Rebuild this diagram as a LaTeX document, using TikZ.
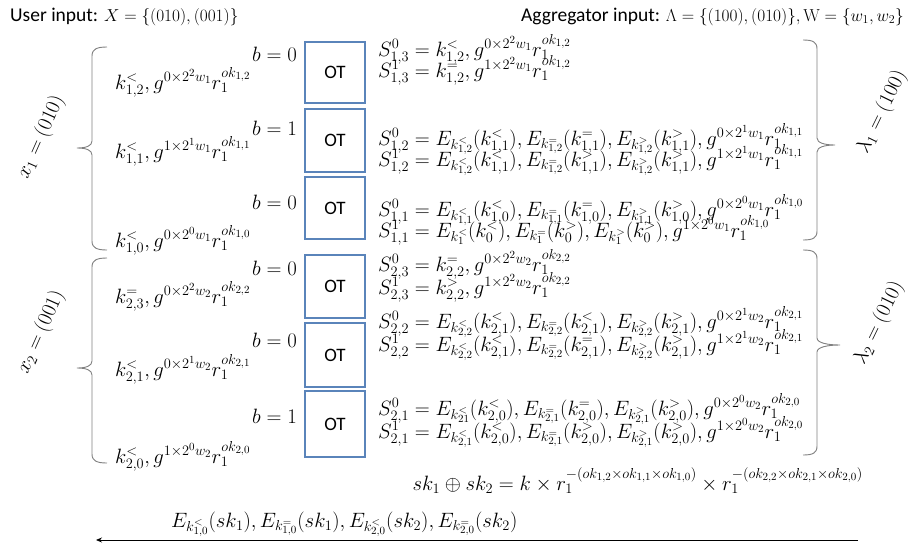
\documentclass[tikz,border=0pt]{standalone}
\usepackage[no-math]{fontspec}
\setmainfont{Carlito}
\usetikzlibrary{arrows.meta}
\definecolor{otblue}{RGB}{90,132,186}
\definecolor{brgray}{RGB}{128,128,128}
\begin{document}
\begin{tikzpicture}[x=1pt,y=-1pt,
  txt/.style={inner sep=0pt, font=\fontsize{19.5}{22}\selectfont},
  mth/.style={inner sep=0pt, font=\fontsize{21}{24}\selectfont},
  otbox/.style={draw=otblue, line width=1.3pt, minimum width=60pt, inner sep=0pt, font=\fontsize{19}{22}\selectfont},
  brc/.style={draw=brgray, line width=0.9pt}]
\useasboundingbox[fill=white] (0,0) rectangle (924,546);

% headers
\node[txt, anchor=base west] (uin) at (10,21) {User input: {\fontsize{18}{21}\selectfont$X=\{(010),(001)\}$}};
\node[txt, anchor=base east] (ain) at (904,21) {Aggregator input: {\fontsize{18.5}{21}\selectfont$\Lambda=\{(100),(010)\},\mathrm{W}=\{w_1,w_2\}$}};

% OT boxes
\node[otbox, minimum height=61pt] (ot1) at (335,72.5) {OT};
\node[otbox, minimum height=63pt] (ot2) at (335,140.5) {OT};
\node[otbox, minimum height=62pt] (ot3) at (335,208) {OT};
\node[otbox, minimum height=63pt] (ot4) at (335,286.5) {OT};
\node[otbox, minimum height=64pt] (ot5) at (335,355) {OT};
\node[otbox, minimum height=66pt] (ot6) at (335,424) {OT};

% b labels
\node[mth, anchor=base east] (b1) at (297,61) {$b=0$};
\node[mth, anchor=base east] (b2) at (297,135) {$b=1$};
\node[mth, anchor=base east] (b3) at (297,209) {$b=0$};
\node[mth, anchor=base east] (b4) at (297,275) {$b=0$};
\node[mth, anchor=base east] (b5) at (297,347) {$b=0$};
\node[mth, anchor=base east] (b6) at (297,423) {$b=1$};

% user values
\node[mth, anchor=base west] (k1) at (115,89) {$k^{<}_{1,2},g^{0\times2^2w_1}r_1^{ok_{1,2}}$};
\node[mth, anchor=base west] (k2) at (115,158) {$k^{<}_{1,1},g^{1\times2^1w_1}r_1^{ok_{1,1}}$};
\node[mth, anchor=base west] (k3) at (115,247) {$k^{<}_{1,0},g^{0\times2^0w_1}r_1^{ok_{1,0}}$};
\node[mth, anchor=base west] (k4) at (115,303) {$k^{=}_{2,3},g^{0\times2^2w_2}r_1^{ok_{2,2}}$};
\node[mth, anchor=base west] (k5) at (115,376) {$k^{<}_{2,1},g^{0\times2^1w_2}r_1^{ok_{2,1}}$};
\node[mth, anchor=base west] (k6) at (115,463) {$k^{<}_{2,0},g^{1\times2^0w_2}r_1^{ok_{2,0}}$};

% aggregator values
\node[mth, anchor=base west] (s1a) at (378,56) {$S^0_{1,3}=k^{<}_{1,2},g^{0\times2^2w_1}r_1^{ok_{1,2}}$};
\node[mth, anchor=base west] (s1b) at (378,77) {$S^1_{1,3}=k^{=}_{1,2},g^{1\times2^2w_1}r_1^{ok_{1,2}}$};
\node[mth, anchor=base west] (s2a) at (378,145) {$S^0_{1,2}=E_{k^{<}_{1,2}}\bigl(k^{<}_{1,1}\bigr),E_{k^{=}_{1,2}}\bigl(k^{=}_{1,1}\bigr),E_{k^{>}_{1,2}}\bigl(k^{>}_{1,1}\bigr),g^{0\times2^1w_1}r_1^{ok_{1,1}}$};
\node[mth, anchor=base west] (s2b) at (378,166) {$S^1_{1,2}=E_{k^{<}_{1,2}}\bigl(k^{<}_{1,1}\bigr),E_{k^{=}_{1,2}}\bigl(k^{>}_{1,1}\bigr),E_{k^{>}_{1,2}}\bigl(k^{>}_{1,1}\bigr),g^{1\times2^1w_1}r_1^{ok_{1,1}}$};
\node[mth, anchor=base west] (s3a) at (378,216) {$S^0_{1,1}=E_{k^{<}_{1,1}}\bigl(k^{<}_{1,0}\bigr),E_{k^{=}_{1,1}}\bigl(k^{=}_{1,0}\bigr),E_{k^{>}_{1,1}}\bigl(k^{>}_{1,0}\bigr),g^{0\times2^0w_1}r_1^{ok_{1,0}}$};
\node[mth, anchor=base west] (s3b) at (378,237) {$S^1_{1,1}=E_{k^{<}_{1}}(k^{<}_{0}),E_{k^{=}_{1}}(k^{>}_{0}),E_{k^{>}_{1}}(k^{>}_{0}),g^{1\times2^0w_1}r_1^{ok_{1,0}}$};
\node[mth, anchor=base west] (s4a) at (378,271) {$S^0_{2,3}=k^{=}_{2,2},g^{0\times2^2w_2}r_1^{ok_{2,2}}$};
\node[mth, anchor=base west] (s4b) at (378,294) {$S^1_{2,3}=k^{>}_{2,2},g^{1\times2^2w_2}r_1^{ok_{2,2}}$};
\node[mth, anchor=base west] (s5a) at (378,328) {$S^0_{2,2}=E_{k^{<}_{2,2}}\bigl(k^{<}_{2,1}\bigr),E_{k^{=}_{2,2}}\bigl(k^{<}_{2,1}\bigr),E_{k^{>}_{2,2}}\bigl(k^{>}_{2,1}\bigr),g^{0\times2^1w_2}r_1^{ok_{2,1}}$};
\node[mth, anchor=base west] (s5b) at (378,351) {$S^1_{2,2}=E_{k^{<}_{2,2}}\bigl(k^{<}_{2,1}\bigr),E_{k^{=}_{2,2}}\bigl(k^{=}_{2,1}\bigr),E_{k^{>}_{2,2}}\bigl(k^{>}_{2,1}\bigr),g^{1\times2^1w_2}r_1^{ok_{2,1}}$};
\node[mth, anchor=base west] (s6a) at (378,415) {$S^0_{2,1}=E_{k^{<}_{21}}\bigl(k^{<}_{2,0}\bigr),E_{k^{=}_{2,1}}\bigl(k^{=}_{2,0}\bigr),E_{k^{>}_{2,1}}\bigl(k^{>}_{2,0}\bigr),g^{0\times2^0w_2}r_1^{ok_{2,0}}$};
\node[mth, anchor=base west] (s6b) at (378,438) {$S^1_{2,1}=E_{k^{<}_{2,1}}\bigl(k^{<}_{2,0}\bigr),E_{k^{=}_{2,1}}\bigl(k^{>}_{2,0}\bigr),E_{k^{>}_{2,1}}\bigl(k^{>}_{2,0}\bigr),g^{1\times2^0w_2}r_1^{ok_{2,0}}$};

% left braces
\draw[brc] (107,47) .. controls (97,47) and (92,49) .. (92,56) -- (92,141) .. controls (92,146) and (86,148) .. (77,148) .. controls (86,148) and (92,150) .. (92,155) -- (92,241) .. controls (92,248) and (97,250) .. (107,250);
\draw[brc] (107,258) .. controls (97,258) and (92,260) .. (92,267) -- (92,361) .. controls (92,366) and (86,368) .. (77,368) .. controls (86,368) and (92,370) .. (92,375) -- (92,454) .. controls (92,461) and (97,463) .. (107,463);
% right braces
\draw[brc] (803,40) .. controls (813,40) and (817,42) .. (817,49) -- (817,138) .. controls (817,143) and (825,145) .. (835,145) .. controls (825,145) and (817,147) .. (817,152) -- (817,231) .. controls (817,238) and (813,240) .. (803,240);
\draw[brc] (803,250) .. controls (813,250) and (817,252) .. (817,259) -- (817,338) .. controls (817,343) and (828,345) .. (840,345) .. controls (828,345) and (817,347) .. (817,352) -- (817,446) .. controls (817,453) and (813,455) .. (803,455);

% rotated labels
\node[mth, rotate=66] (x1) at (41,137) {$x_1=(010)$};
\node[mth, rotate=66] (x2) at (41,332) {$x_2=(001)$};
\node[mth, rotate=64] (l1) at (882,112) {$\lambda_1=(100)$};
\node[mth, rotate=64] (l2) at (879,323) {$\lambda_2=(010)$};

% bottom
\node[mth, anchor=base east] (sk) at (863,490) {$sk_1\oplus sk_2=k\times r_1^{-(ok_{1,2}\times ok_{1,1}\times ok_{1,0})}\times r_1^{-(ok_{2,2}\times ok_{2,1}\times ok_{2,0})}$};
\node[mth, anchor=base west] (ek) at (171,527) {$E_{k^{<}_{1,0}}(sk_1),E_{k^{=}_{1,0}}(sk_1),E_{k^{<}_{2,0}}(sk_2),E_{k^{=}_{2,0}}(sk_2)$};
\coordinate (arrS) at (858,540);
\coordinate (arrE) at (96,540);
\draw[line width=0.8pt, -{Stealth[length=6pt,width=5pt]}] (arrS) -- (arrE);
\end{tikzpicture}
\end{document}
